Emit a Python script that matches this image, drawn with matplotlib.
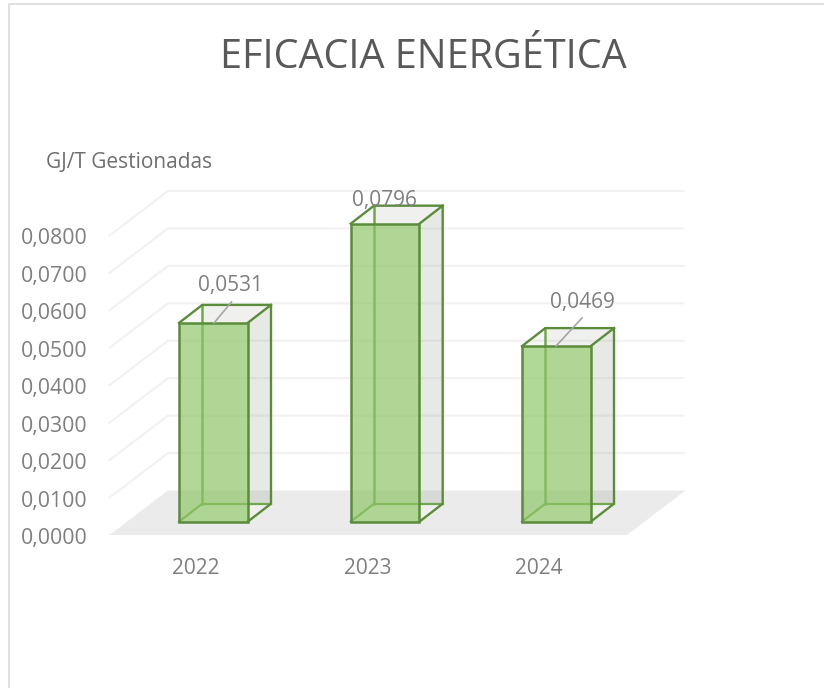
import numpy as np
import matplotlib
matplotlib.use("Agg")
import matplotlib.pyplot as plt
from matplotlib.patches import Polygon

years = ["2022", "2023", "2024"]
values = [0.0531, 0.0796, 0.0469]
value_labels = ["0,0531", "0,0796", "0,0469"]
y_ticks = [0.00, 0.01, 0.02, 0.03, 0.04, 0.05, 0.06, 0.07, 0.08]
y_tick_labels = ["0,0000", "0,0100", "0,0200", "0,0300", "0,0400",
                 "0,0500", "0,0600", "0,0700", "0,0800"]

plt.rcParams['font.family'] = ['Open Sans', 'DejaVu Sans']

# everything is laid out in the pixel space of the picture
W, H = 824, 688
px_per_unit = 3744
floor_front_y = 535
floor_back_y = 490.5
floor_left = 109.5
floor_right = 627
depth_x, depth_y = 58.5, -44.5
bar_bottom = 521.7
bar_lefts = [179, 350.7, 522]
bar_width = 68.7
bar_dx, bar_dy = 23.3, -18

edge = '#5b8c3b'
inner_edge = '#6fa84f'
grey_text = '#7f7f7f'

fig = plt.figure(figsize=(W / 100, H / 100), dpi=100)
ax = fig.add_axes([0, 0, 1, 1])
ax.set_xlim(0, W)
ax.set_ylim(H, 0)
ax.axis('off')

# chart border (only top and left are inside the crop)
ax.plot([W, 9.5, 9.5], [3.5, 3.5, H], color='#e0e0e0', lw=1.4, zorder=1)

ax.text(423, 58, "EFICACIA ENERGÉTICA", fontsize=28.5, color='#595959', ha='center', va='center')
ax.text(46, 162, "GJ/T Gestionadas", fontsize=15, color='#6f6f6f', ha='left', va='center')

# floor
ax.add_patch(Polygon([(floor_left, floor_front_y), (floor_right, floor_front_y),
                      (floor_right + depth_x, floor_back_y), (floor_left + depth_x, floor_back_y)],
                     closed=True, fc='#ebebeb', ec='none', zorder=1))

# gridlines on side and back wall
for t, lab in zip(y_ticks, y_tick_labels):
    yf = floor_front_y - t * px_per_unit
    yb = floor_back_y - t * px_per_unit
    if t > 0:
        ax.plot([floor_left, floor_left + depth_x, floor_right + depth_x - 2], [yf, yb, yb],
                color='#f2f2f2', lw=1.6, zorder=1.5, solid_joinstyle='miter')
    ax.text(88, yf + 3.5, lab, fontsize=15.3, color=grey_text, ha='right', va='center')

for left, v, year in zip(bar_lefts, values, years):
    right = left + bar_width
    top = bar_bottom - v * px_per_unit
    # far faces first: back, top, side, bottom
    ax.add_patch(Polygon([(left + bar_dx, top + bar_dy), (right + bar_dx, top + bar_dy),
                          (right + bar_dx, bar_bottom + bar_dy), (left + bar_dx, bar_bottom + bar_dy)],
                         closed=True, fc='#8a9a80', alpha=0.05, ec='none', zorder=2))
    ax.add_patch(Polygon([(left, top), (right, top), (right + bar_dx, top + bar_dy), (left + bar_dx, top + bar_dy)],
                         closed=True, fc='#8a9a80', alpha=0.08, ec='none', zorder=2))
    ax.add_patch(Polygon([(right, top), (right + bar_dx, top + bar_dy),
                          (right + bar_dx, bar_bottom + bar_dy), (right, bar_bottom)],
                         closed=True, fc='#8a9a80', alpha=0.16, ec='none', zorder=2))
    ax.add_patch(Polygon([(left, bar_bottom), (right, bar_bottom),
                          (right + bar_dx, bar_bottom + bar_dy), (left + bar_dx, bar_bottom + bar_dy)],
                         closed=True, fc='#ffffff', alpha=0.6, ec='none', zorder=2))
    # back edges, seen through the front face
    ax.plot([left + bar_dx, left + bar_dx], [top + bar_dy, bar_bottom + bar_dy], color=inner_edge, lw=1.8, zorder=3)
    ax.plot([left + bar_dx, right + bar_dx], [bar_bottom + bar_dy, bar_bottom + bar_dy],
            color=inner_edge, lw=1.6, zorder=3)
    ax.plot([left, left + bar_dx], [bar_bottom, bar_bottom + bar_dy], color=inner_edge, lw=1.6, zorder=3)
    ax.plot([left, left + bar_dx, right + bar_dx, right + bar_dx, right],
            [top, top + bar_dy, top + bar_dy, bar_bottom + bar_dy, bar_bottom],
            color=edge, lw=1.7, zorder=3, solid_joinstyle='miter')
    ax.plot([right, right + bar_dx], [top, top + bar_dy], color=edge, lw=1.7, zorder=3)
    # front face
    ax.add_patch(Polygon([(left, top), (right, top), (right, bar_bottom), (left, bar_bottom)],
                         closed=True, fc='#8dc666', alpha=0.68, ec='none', zorder=4))
    ax.add_patch(Polygon([(left, top), (right, top), (right, bar_bottom), (left, bar_bottom)],
                         closed=True, fc='none', ec=edge, lw=1.8, zorder=5))
    ax.text(left + 17, 568.5, year, fontsize=15, color=grey_text, ha='center', va='center')

# data labels and their leader lines
label_xy = [(231, 285.5), (384, 200.5), (582, 302.5)]
for (lx, ly), lab in zip(label_xy, value_labels):
    ax.text(lx, ly, lab, fontsize=15, color=grey_text, ha='center', va='center', zorder=6)
ax.plot([231.5, 214], [302, 323], color='#a6a6a6', lw=1.2, zorder=6)
ax.plot([582, 556], [318, 346], color='#a6a6a6', lw=1.2, zorder=6)

fig.savefig("out.png", dpi=100, facecolor='white')
